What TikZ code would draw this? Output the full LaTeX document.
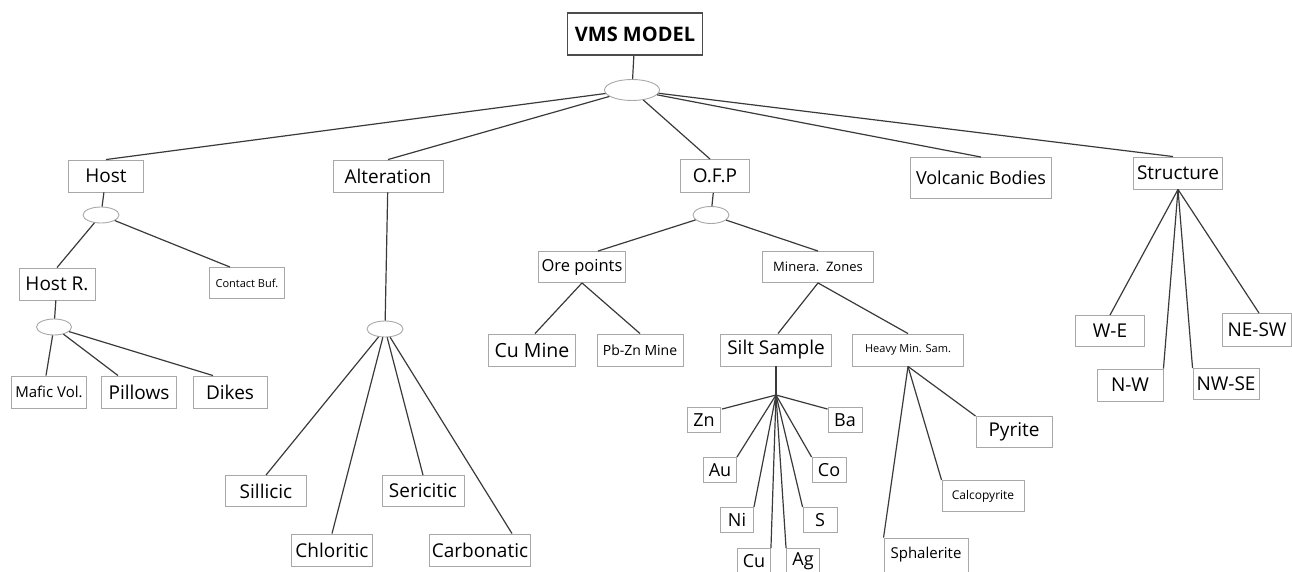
\documentclass[tikz,border=0pt]{standalone}
\usepackage{fontspec}
\setmainfont{Open Sans}
\usetikzlibrary{shapes.geometric,calc}
\newcommand\fsz[1]{\fontsize{#1}{#1}\selectfont}
\definecolor{lnc}{HTML}{3A3A3A}
\definecolor{bxc}{HTML}{A8A8A8}
\tikzset{
  bx/.style 2 args={draw=bxc, line width=0.9pt, minimum width=#1, minimum height=#2, inner sep=0pt, text=black},
  ell/.style 2 args={ellipse, draw=bxc, line width=0.9pt, minimum width=#1, minimum height=#2, inner sep=0pt},
  ln/.style={draw=lnc, line width=1.2pt},
}
\begin{document}
\begin{tikzpicture}[x=1pt,y=-1pt]
\useasboundingbox (0,0) rectangle (1292,572);
% level 0
\node[bx={135}{42}, draw=black!70, line width=1.3pt, font=\fsz{20}\bfseries] (vms) at (635,34) {VMS MODEL};
\node[ell={55}{21}] (e0) at (632,90) {};
% level 1
\node[bx={75}{32}, font=\fsz{19}] (host) at (106,176) {Host};
\node[bx={110}{32}, font=\fsz{19}] (alt) at (388,176) {Alteration};
\node[bx={69}{33}, font=\fsz{19}] (ofp) at (715,176) {O.F.P};
\node[bx={141}{41}, font=\fsz{18}] (volc) at (981,178) {Volcanic Bodies};
\node[bx={89}{32}, font=\fsz{19}] (struct) at (1178,173) {Structure};
% host branch
\node[ell={36}{16}] (e1) at (101,215) {};
\node[bx={76}{32}, font=\fsz{19}] (hostr) at (57,284) {Host R.};
\node[bx={75}{31}, font=\fsz{11}] (contact) at (247,283) {Contact Buf.};
\node[ell={35}{16}] (e2) at (54,327) {};
\node[bx={75}{32}, font=\fsz{15}] (mafic) at (49,392) {Mafic Vol.};
\node[bx={75}{32}, font=\fsz{19}] (pillows) at (139,392) {Pillows};
\node[bx={74}{32}, font=\fsz{19}] (dikes) at (230,392) {Dikes};
% alteration branch
\node[ell={36}{16}] (e3) at (385,329) {};
\node[bx={81}{31}, font=\fsz{19}] (sill) at (266,491) {Sillicic};
\node[bx={81}{32}, font=\fsz{19}] (chlo) at (332,550) {Chloritic};
\node[bx={82}{31}, font=\fsz{19}] (seri) at (423,491) {Sericitic};
\node[bx={101}{32}, font=\fsz{19}] (carb) at (480,550) {Carbonatic};
% OFP branch
\node[ell={36}{17}] (e4) at (711,215) {};
\node[bx={87}{31}, font=\fsz{16.5}] (ore) at (582,267) {Ore points};
\node[bx={111}{31}, font=\fsz{13}] (minera) at (818,267) {Minera.\ \ Zones};
\node[bx={87}{32}, font=\fsz{19.5}] (cumine) at (532,350) {Cu Mine};
\node[bx={86}{32}, font=\fsz{14}] (pbzn) at (640,350) {Pb-Zn Mine};
\node[bx={111}{32}, font=\fsz{19}] (silt) at (776,350) {Silt Sample};
\node[bx={111}{32}, font=\fsz{11}] (heavy) at (908,350) {Heavy Min. Sam.};
\coordinate (hub) at (776,395);
\node[bx={33}{25}, font=\fsz{18}] (zn) at (704,420) {Zn};
\node[bx={34}{25}, font=\fsz{18}] (ba) at (845,420) {Ba};
\node[bx={33}{25}, font=\fsz{18}] (au) at (720,470) {Au};
\node[bx={34}{25}, font=\fsz{18}] (co) at (829,470) {Co};
\node[bx={33}{25}, font=\fsz{18}] (ni) at (737,520) {Ni};
\node[bx={34}{25}, font=\fsz{18}] (s) at (820,520) {S};
\node[bx={33}{25}, font=\fsz{18}] (cu) at (754,561) {Cu};
\node[bx={33}{25}, font=\fsz{18}] (ag) at (803,561) {Ag};
\node[bx={84}{34}, font=\fsz{15}] (sphal) at (926,555) {Sphalerite};
\node[bx={82}{31}, font=\fsz{12}] (calco) at (983,496) {Calcopyrite};
\node[bx={76}{31}, font=\fsz{19}] (pyrite) at (1014,432) {Pyrite};
% structure branch
\node[bx={69}{31}, font=\fsz{19}] (we) at (1110,331) {W-E};
\node[bx={69}{33}, font=\fsz{19}] (nesw) at (1257,330) {NE-SW};
\node[bx={66}{32}, font=\fsz{19}] (nw) at (1130,385) {N-W};
\node[bx={66}{31}, font=\fsz{19}] (nwse) at (1226,384) {NW-SE};
% connectors
\draw[ln] (vms) -- (e0);
\draw[ln] (e0) -- (host.north);
\draw[ln] (e0) -- (alt.north);
\draw[ln] (e0) -- ($(ofp.north)+(-5,0)$);
\draw[ln] (e0) -- (volc.north);
\draw[ln] (e0) -- ($(struct.north)+(-5,0)$);
\draw[ln] (host) -- (e1);
\draw[ln] (e1) -- (hostr.north);
\draw[ln] (e1) -- ($(contact.north)+(-17,0)$);
\draw[ln] (hostr) -- (e2);
\draw[ln] (e2) -- ($(mafic.north)+(-3,0)$);
\draw[ln] (e2) -- ($(pillows.north)+(-21,0)$);
\draw[ln] (e2) -- ($(dikes.north)+(-17,0)$);
\draw[ln] (alt) -- (e3);
\draw[ln] (e3) -- (sill.north);
\draw[ln] (e3) -- (chlo.north);
\draw[ln] (e3) -- (seri.north);
\draw[ln] (e3) -- ($(carb.north)+(32,0)$);
\draw[ln] (ofp) -- (e4);
\draw[ln] (e4) -- ($(ore.north)+(16,0)$);
\draw[ln] (e4) -- (minera.north);
\draw[ln] (ore.south) -- ($(cumine.north)+(3,0)$);
\draw[ln] (ore.south) -- (pbzn.north);
\draw[ln] (minera.south) -- ($(silt.north)+(2,0)$);
\draw[ln] (minera.south) -- (heavy.north);
\draw[ln] (silt.south) -- (hub);
\draw[ln] (hub) -- ($(zn.north east)+(1,2)$);
\draw[ln] (hub) -- ($(ba.north west)+(0,2)$);
\draw[ln] (hub) -- (au.north east);
\draw[ln] (hub) -- (co.north west);
\draw[ln] (hub) -- (ni.north east);
\draw[ln] (hub) -- (s.north west);
\draw[ln] (hub) -- (cu.north east);
\draw[ln] (hub) -- (ag.north west);
\draw[ln] (heavy.south) -- (sphal.north west);
\draw[ln] (heavy.south) -- (calco.north west);
\draw[ln] (heavy.south) -- (pyrite.north west);
\draw[ln] (struct.south) -- (we.north);
\draw[ln] (struct.south) -- ($(nesw.north)+(2,0)$);
\draw[ln] (struct.south) -- (nw.north east);
\draw[ln] (struct.south) -- (nwse.north west);
\end{tikzpicture}
\end{document}
